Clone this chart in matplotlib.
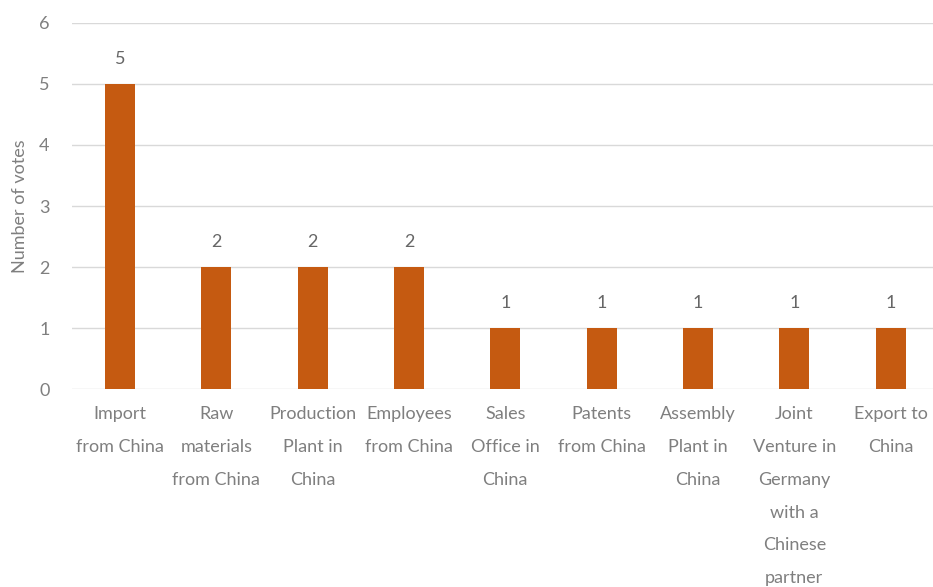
import matplotlib
matplotlib.use("Agg")
import matplotlib.pyplot as plt

categories = [
    "Import\nfrom China",
    "Raw\nmaterials\nfrom China",
    "Production\nPlant in\nChina",
    "Employees\nfrom China",
    "Sales\nOffice in\nChina",
    "Patents\nfrom China",
    "Assembly\nPlant in\nChina",
    "Joint\nVenture in\nGermany\nwith a\nChinese\npartner",
    "Export to\nChina",
]
votes = [5, 2, 2, 2, 1, 1, 1, 1, 1]
y_ticks = [0, 1, 2, 3, 4, 5, 6]

plt.rcParams['font.family'] = ['Lato', 'DejaVu Sans']
text_color = "#7f7f7f"
grid_color = "#d9d9d9"
bar_color = "#C55A11"

fig = plt.figure(figsize=(9.33, 5.87), dpi=100)
ax = fig.add_axes([0.077, 0.337, 0.923, 0.624])

x = list(range(len(categories)))
bars = ax.bar(x, votes, width=0.31, color=bar_color, zorder=3)
for xi, v in zip(x, votes):
    ax.annotate(str(v), (xi, v), xytext=(0, 12), textcoords="offset points",
                ha="center", va="bottom", fontsize=13, color="#666666")

ax.set_ylim(0, 6)
ax.set_xlim(-0.5, 8.44)
ax.set_yticks(y_ticks)
ax.yaxis.grid(True, color=grid_color, linewidth=1, zorder=0)
ax.set_xticks(x)
ax.set_xticklabels(categories, fontsize=13, color=text_color, linespacing=2.3)
ax.tick_params(axis="both", length=0, colors=text_color, labelsize=13)
ax.tick_params(axis="x", pad=12)
ax.tick_params(axis="y", pad=16)
for s in ax.spines.values():
    s.set_visible(False)
ax.set_ylabel("Number of votes", fontsize=13, color=text_color, labelpad=8)

fig.savefig("out.png", dpi=100)
